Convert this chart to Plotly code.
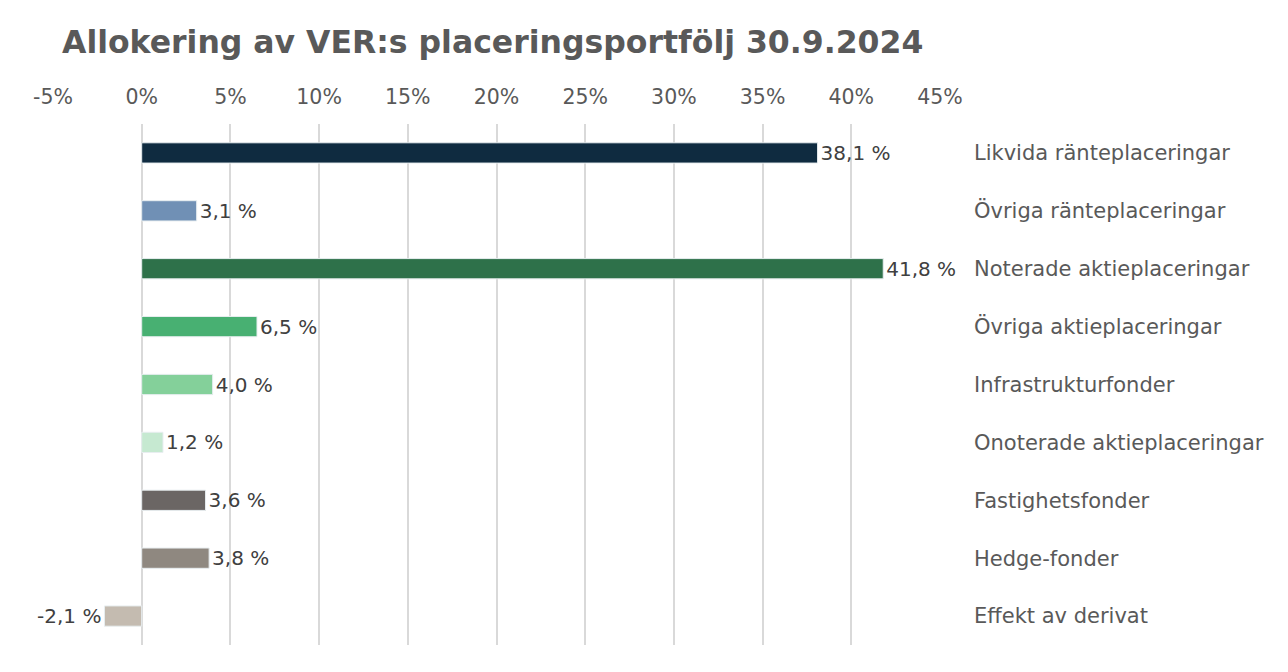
import plotly.graph_objects as go

categories = [
    "Likvida ränteplaceringar",
    "Övriga ränteplaceringar",
    "Noterade aktieplaceringar",
    "Övriga aktieplaceringar",
    "Infrastrukturfonder",
    "Onoterade aktieplaceringar",
    "Fastighetsfonder",
    "Hedge-fonder",
    "Effekt av derivat",
]
values = [38.1, 3.1, 41.8, 6.5, 4.0, 1.2, 3.6, 3.8, -2.1]
colors = ["#0f2b40", "#7090b5", "#2e714a", "#48b072", "#84d09a",
          "#c6e9d1", "#6b6664", "#8f8880", "#c4bbb0"]
tick_vals = [-5, 0, 5, 10, 15, 20, 25, 30, 35, 40, 45]
tick_text = [f"{v}%" for v in tick_vals]

labels = [f"{v:.1f}".replace(".", ",") + " %" for v in values]

font_family = "DejaVu Sans, Noto Sans, sans-serif"

fig = go.Figure(go.Bar(
    x=values,
    y=categories,
    orientation="h",
    marker=dict(color=colors, line=dict(color="#e8eef0", width=1)),
    width=0.35,
    text=labels,
    textposition="outside",
    constraintext="none",
    textfont=dict(size=20, color="#404040", family=font_family),
    cliponaxis=False,
))

fig.update_layout(
    width=1288, height=672,
    margin=dict(l=53, r=348, t=124, b=27),
    paper_bgcolor="white", plot_bgcolor="white",
    title=dict(text="<b>Allokering av VER:s placeringsportfölj 30.9.2024</b>",
               x=62 / 1288, xanchor="left", y=1 - 42 / 672, yanchor="middle",
               font=dict(size=31.5, color="#595959", family=font_family)),
    showlegend=False,
    font=dict(family=font_family, color="#595959"),
)
fig.update_xaxes(
    range=[-5, 45], side="top", tickvals=tick_vals, ticktext=tick_text,
    showgrid=True, gridcolor="#d9d9d9", gridwidth=2, zeroline=False,
    tickfont=dict(size=20.5, color="#595959"), ticks="", ticklabelstandoff=15,
    showline=False, fixedrange=True,
)
fig.update_yaxes(
    autorange="reversed", side="right", showgrid=False, zeroline=False,
    tickfont=dict(size=21, color="#595959"), ticks="", ticklabelstandoff=33,
    showline=False,
)

fig.write_html("out.html")
